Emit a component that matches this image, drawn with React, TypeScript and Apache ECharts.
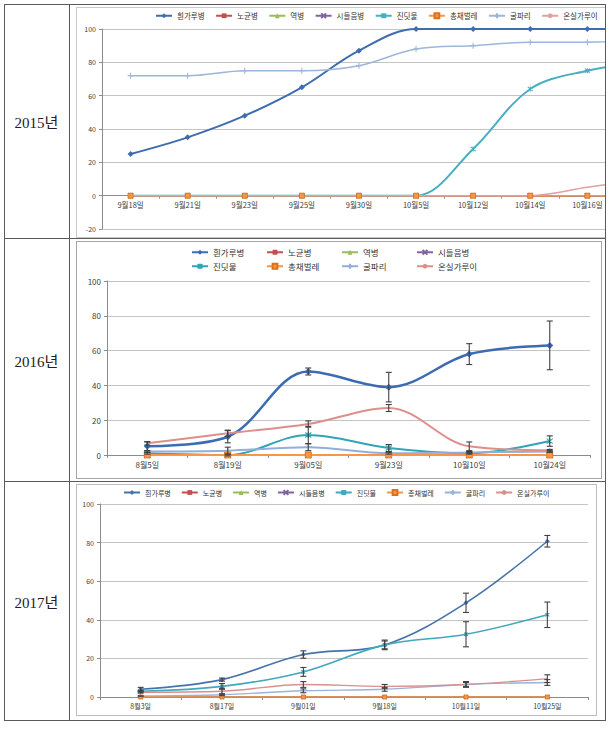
import React, { useEffect, useRef } from "react";
import * as echarts from "echarts";

// ---------- shared ----------
const seriesNames = ["흰가루병", "노균병", "역병", "시들음병", "진딧물", "총채벌레", "굴파리", "온실가루이"];
const yearLabels = ["2015년", "2016년", "2017년"];

// ---------- 2015 ----------
const cats2015 = ["9월18일", "9월21일", "9월23일", "9월25일", "9월30일", "10월5일", "10월12일", "10월14일", "10월16일", "10월19일"];
const powdery2015 = [25, 35, 48, 65, 87, 100, 100, 100, 100, 100];
const downy2015 = [0, 0, 0, 0, 0, 0, 0, 0, 0, 0];
const blight2015 = [0, 0, 0, 0, 0, 0, 0, 0, 0, 0];
const wilt2015 = [0, 0, 0, 0, 0, 0, 0, 0, 0, 0];
const aphid2015 = [0, 0, 0, 0, 0, 0, 28, 64, 75, 80];
const thrips2015 = [0, 0, 0, 0, 0, 0, 0, 0, 0, 0];
const leafminer2015 = [72, 72, 75, 75, 78, 88, 90, 92, 92, 94];
const whitefly2015 = [0, 0, 0, 0, 0, 0, 0, 0, 5, 10];

// ---------- 2016 ----------
const cats2016 = ["8월5일", "8월19일", "9월05일", "9월23일", "10월10일", "10월24일"];
const powdery2016 = [5, 10.5, 48, 39, 58, 63];
const downy2016 = [0, 0, 0, 0, 0, 0];
const blight2016 = [0, 0, 0, 0, 0, 0];
const wilt2016 = [0, 0, 0, 0, 0, 0];
const aphid2016 = [1, 0, 11.5, 4, 1, 8];
const thrips2016 = [0, 0, 0, 0, 0, 0];
const leafminer2016 = [2, 2.5, 4.5, 1, 1.5, 2];
const whitefly2016 = [6.7, 12.5, 17.8, 27, 5, 2.7];
const powderyErr2016 = [2.5, 3.5, 2, 8.5, 6, 14];
const aphidErr2016 = [0.5, 0.5, 5, 2, 0.5, 3];
const leafminerErr2016 = [0.5, 2, 2, 0.5, 0.5, 0.5];
const whiteflyErr2016 = [1, 1.8, 1.8, 2, 2.5, 0.5];

// ---------- 2017 ----------
const cats2017 = ["8월3일", "8월17일", "9월01일", "9월18일", "10월11일", "10월25일"];
const powdery2017 = [4, 9, 22, 27, 48.8, 80.7];
const downy2017 = [0, 0, 0, 0, 0, 0];
const blight2017 = [0, 0, 0, 0, 0, 0];
const wilt2017 = [0, 0, 0, 0, 0, 0];
const aphid2017 = [3, 5.5, 13, 27, 32.5, 42.6];
const thrips2017 = [0, 0, 0, 0, 0, 0];
const leafminer2017 = [0.5, 1.2, 3.2, 4, 6.5, 7.5];
const whitefly2017 = [2.5, 3, 6.5, 5.5, 6.5, 9.5];
const powderyErr2017 = [1, 0.8, 1.9, 2.5, 5, 3];
const aphidErr2017 = [0.5, 1.5, 2.3, 2, 6.5, 6.6];
const leafminerErr2017 = [0, 0.5, 1, 1, 1, 1.5];
const whiteflyErr2017 = [0.5, 1.5, 1.5, 1, 1.5, 2];

const X_PATH = "path://M0,0L10,10M10,0L0,10";
const STAR_PATH = "path://M0,0L10,10M10,0L0,10M5,-1L5,11";
const PLUS_PATH = "path://M5,0L5,10M0,5L10,5";
const symbols = ["diamond", "rect", "triangle", X_PATH, STAR_PATH, "rect", PLUS_PATH, "none"];
const strokeSymbol = [false, false, false, true, true, false, true, false];

type Cfg = {
  cats: string[];
  values: number[][];
  errors: (number[] | null)[];
  yMin: number;
  yMax: number;
  grid: { left: number; right: number; top: number; bottom: number };
  xOffset: number;
  hideLastLabel: boolean;
  xFont: number;
  yFont: number;
  legends: any[];
  lineWidths: number[];
  colors: string[];
  symbolSize: number;
  zThrips: number;
};

function buildOption(c: Cfg): any {
  const series: any[] = [];
  seriesNames.forEach((name, i) => {
    const color = c.colors[i];
    const isStroke = strokeSymbol[i];
    series.push({
      type: "line",
      name,
      data: c.values[i],
      smooth: 0.35,
      symbol: symbols[i],
      symbolSize: i === 0 ? c.symbolSize : i === 6 ? c.symbolSize : c.symbolSize - 1,
      showSymbol: symbols[i] !== "none",
      lineStyle: { color, width: c.lineWidths[i] },
      itemStyle: isStroke
        ? { color, borderColor: color, borderWidth: 1.1 }
        : i === 5
        ? { color, borderColor: "#D7731F", borderWidth: 0.8 }
        : { color },
      z: i === 5 ? c.zThrips : 2,
      emphasis: { disabled: true },
    });
  });
  c.errors.forEach((errs, i) => {
    if (!errs) return;
    const vals = c.values[i];
    series.push({
      type: "custom",
      name: "err" + i,
      silent: true,
      z: 4,
      encode: { x: 0, y: [1, 2] },
      data: vals.map((v, k) => [k, v - errs[k], v + errs[k]]),
      renderItem: (_p: any, api: any) => {
        const k = api.value(0);
        const top = api.coord([k, api.value(2)]);
        const bot = api.coord([k, api.value(1)]);
        const w = 3;
        const st = { stroke: "#404040", lineWidth: 1.1 };
        return {
          type: "group",
          children: [
            { type: "line", shape: { x1: top[0], y1: top[1], x2: bot[0], y2: bot[1] }, style: st },
            { type: "line", shape: { x1: top[0] - w, y1: top[1], x2: top[0] + w, y2: top[1] }, style: st },
            { type: "line", shape: { x1: bot[0] - w, y1: bot[1], x2: bot[0] + w, y2: bot[1] }, style: st },
          ],
        };
      },
    });
  });
  const lastIdx = c.cats.length - 1;
  return {
    animation: false,
    textStyle: { fontFamily: "'Noto Sans CJK KR', sans-serif" },
    legend: c.legends,
    grid: { ...c.grid, containLabel: false },
    xAxis: {
      type: "category",
      data: c.cats,
      boundaryGap: true,
      offset: c.xOffset,
      axisLine: { onZero: false, lineStyle: { color: "#8C8C8C", width: 1 } },
      axisTick: { show: true, length: 3, lineStyle: { color: "#8C8C8C" } },
      axisLabel: {
        fontSize: c.xFont,
        color: "#404040",
        margin: 5,
        interval: 0,
        formatter: (v: string, idx: number) => (c.hideLastLabel && idx === lastIdx ? "" : v),
      },
      splitLine: { show: false },
    },
    yAxis: {
      type: "value",
      min: c.yMin,
      max: c.yMax,
      interval: 20,
      axisLine: { show: true, lineStyle: { color: "#8C8C8C" } },
      axisTick: { show: true, length: 3, lineStyle: { color: "#8C8C8C" } },
      axisLabel: { fontSize: c.yFont, color: "#404040", margin: 6 },
      splitLine: { show: true, lineStyle: { color: "#C4C4C4", width: 1 } },
    },
    series,
  };
}

const colors1 = ["#3F6DAE", "#C0504D", "#9BBB59", "#8064A2", "#46AFC4", "#F79646", "#9DB6DA", "#E0A09C"];
const colors2 = ["#3B6CB2", "#C0504D", "#9BBB59", "#8064A2", "#31A5B6", "#F79646", "#92AEDA", "#DC8F8B"];
const colors3 = ["#4673AC", "#C0504D", "#9BBB59", "#8064A2", "#41A8BD", "#F79646", "#9AB3D8", "#D8908D"];

const legendBase = (font: number) => ({
  itemWidth: 16,
  itemHeight: 6,
  textStyle: { fontSize: font, color: "#333" },
  selectedMode: false,
  padding: 0,
});

// 2015 chart: 231 px tall, grid top 22 / bottom 9 -> plot 200 px for 120 units
const plot2015 = 231 - 22 - 9;
const option2015 = buildOption({
  cats: cats2015,
  values: [powdery2015, downy2015, blight2015, wilt2015, aphid2015, thrips2015, leafminer2015, whitefly2015],
  errors: [null, null, null, null, null, null, null, null],
  yMin: -20,
  yMax: 100,
  grid: { left: 26, right: 17, top: 22, bottom: 9 },
  xOffset: -(plot2015 * 20) / 120,
  hideLastLabel: true,
  xFont: 7.5,
  yFont: 7,
  legends: [{ ...legendBase(7.5), data: seriesNames, left: 79, top: 5, itemGap: 10.5 }],
  lineWidths: [2, 1.5, 1.5, 1.5, 2, 1.5, 1.5, 1.5],
  colors: colors1,
  symbolSize: 6,
  zThrips: 2,
});

const legendCols2016 = [115, 190, 265, 340];
const option2016 = buildOption({
  cats: cats2016,
  values: [powdery2016, downy2016, blight2016, wilt2016, aphid2016, thrips2016, leafminer2016, whitefly2016],
  errors: [powderyErr2016, null, null, null, aphidErr2016, null, leafminerErr2016, whiteflyErr2016],
  yMin: 0,
  yMax: 100,
  grid: { left: 31, right: 12, top: 40, bottom: 24 },
  xOffset: 0,
  hideLastLabel: false,
  xFont: 8,
  yFont: 8,
  legends: seriesNames.map((n, i) => ({
    ...legendBase(8.5),
    data: [n],
    left: legendCols2016[i % 4],
    top: i < 4 ? 7 : 21,
  })),
  lineWidths: [2.5, 2, 2, 2, 2, 2, 2, 2],
  colors: colors2,
  symbolSize: 7,
  zThrips: 3,
});

const option2017 = buildOption({
  cats: cats2017,
  values: [powdery2017, downy2017, blight2017, wilt2017, aphid2017, thrips2017, leafminer2017, whitefly2017],
  errors: [powderyErr2017, null, null, null, aphidErr2017, null, leafminerErr2017, whiteflyErr2017],
  yMin: 0,
  yMax: 100,
  grid: { left: 24, right: 9, top: 20, bottom: 19 },
  xOffset: 0,
  hideLastLabel: false,
  xFont: 7,
  yFont: 7,
  legends: [{ ...legendBase(7), data: seriesNames, left: 47, top: 5, itemGap: 10 }],
  lineWidths: [1.6, 1.4, 1.4, 1.4, 1.6, 1.4, 1.4, 1.4],
  colors: colors3,
  symbolSize: 5,
  zThrips: 3,
});

function Chart({ option, style }: { option: any; style: React.CSSProperties }) {
  const ref = useRef<HTMLDivElement>(null);
  useEffect(() => {
    if (!ref.current) return;
    const chart = echarts.init(ref.current, undefined, { renderer: "svg" });
    chart.setOption(option);
    return () => chart.dispose();
  }, [option]);
  return <div ref={ref} style={style} />;
}

const line = (l: number, t: number, w: number, h: number): React.CSSProperties => ({
  position: "absolute",
  left: l,
  top: t,
  width: w,
  height: h,
  background: "#5a5a5a",
});

export default function App() {
  const yearStyle = (top: number, h: number): React.CSSProperties => ({
    position: "absolute",
    left: 4,
    top,
    width: 65,
    height: h,
    display: "flex",
    alignItems: "center",
    justifyContent: "center",
    fontFamily: "'Liberation Serif', 'Noto Sans CJK KR', serif",
    fontSize: 15,
    color: "#222",
  });
  return (
    <div style={{ position: "fixed", left: 0, top: 0, width: 615, height: 729, background: "#fff", overflow: "hidden" }}>
      {/* table lines */}
      <div style={line(4, 4, 601, 1)} />
      <div style={line(4, 720, 602, 1)} />
      <div style={line(4, 4, 1, 717)} />
      <div style={line(605, 4, 1, 717)} />
      <div style={line(69, 4, 1, 717)} />
      <div style={line(4, 238, 601, 1)} />
      <div style={line(4, 481, 601, 1)} />

      <div style={yearStyle(5, 233)}>{yearLabels[0]}</div>
      <div style={yearStyle(239, 242)}>{yearLabels[1]}</div>
      <div style={yearStyle(482, 238)}>{yearLabels[2]}</div>

      {/* 2015 chart, clipped by the table cell */}
      <div style={{ position: "absolute", left: 70, top: 5, width: 535, height: 233, overflow: "hidden" }}>
        <div style={{ position: "absolute", left: 6, top: 2, width: 614, height: 231, border: "1px solid #C8C8C8", boxSizing: "border-box" }}>
          <Chart option={option2015} style={{ position: "absolute", left: -1, top: -1, width: 614, height: 231 }} />
        </div>
      </div>

      {/* 2016 chart */}
      <div style={{ position: "absolute", left: 76, top: 241, width: 526, height: 238, border: "1px solid #A8A8A8", boxSizing: "border-box" }}>
        <Chart option={option2016} style={{ position: "absolute", left: -1, top: -1, width: 526, height: 238 }} />
      </div>

      {/* 2017 chart */}
      <div style={{ position: "absolute", left: 76, top: 484, width: 521, height: 232, border: "1px solid #BDBDBD", boxSizing: "border-box" }}>
        <Chart option={option2017} style={{ position: "absolute", left: -1, top: -1, width: 521, height: 232 }} />
      </div>
    </div>
  );
}
